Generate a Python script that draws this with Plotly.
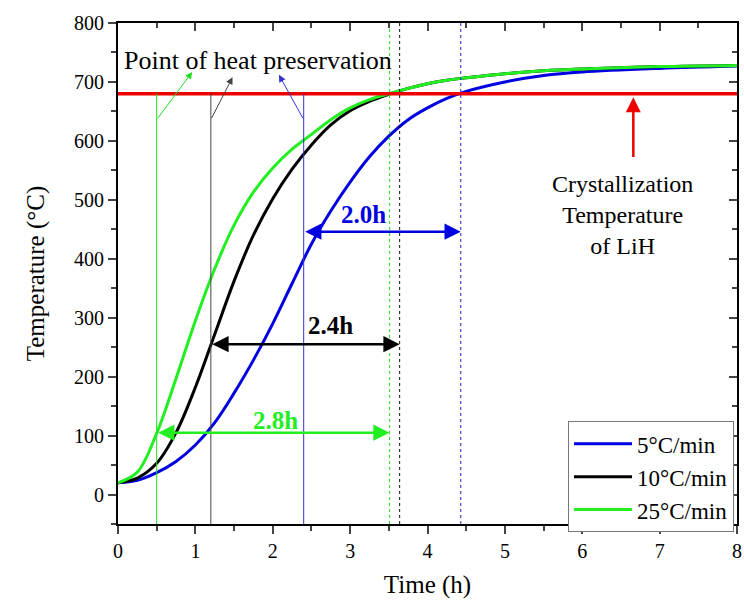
import plotly.graph_objects as go

# ---- data ----
time_h = [0, 0.25, 0.5, 0.75, 1.0, 1.25, 1.5, 1.75, 2.0, 2.25, 2.5, 2.75,
          3.0, 3.25, 3.5, 3.75, 4.0, 4.25, 4.5, 5.0, 5.5, 6.0, 7.0, 8.0]
temp_5 = [20, 24, 37, 56, 84, 122, 172, 228, 290, 358, 425, 481,
          530, 573, 608, 636, 656, 672, 684, 700, 711, 717, 723, 727]
temp_10 = [20, 28, 53, 105, 182, 272, 362, 440, 502, 552, 593, 627,
           651, 667, 679, 689, 697, 703, 707, 714, 719, 722, 726, 728]
temp_25 = [20, 38, 104, 197, 295, 383, 457, 513, 554, 586, 611, 636,
           656, 670, 680, 689, 697, 703, 707, 714, 719, 722, 726, 728]
series_names = ["5°C/min", "10°C/min", "25°C/min"]
series_colors = ["#0000e0", "#000000", "#22ee22"]

cryst_temp = 680
start_times = [2.4, 1.2, 0.5]      # heat preservation start (5, 10, 25)
end_times = [4.43, 3.64, 3.51]     # crossing of crystallization temperature
arrow_levels = [446, 255, 105]
interval_labels = ["2.0h", "2.4h", "2.8h"]
label_pos = [(3.17, 475), (2.75, 287), (2.04, 126)]
pointer_tips = [(2.08, 712), (1.48, 708), (0.96, 717)]
pointer_base = 636
x_range = [0, 8]
y_range = [-50, 800]

FONT = "Liberation Serif, Times New Roman, serif"

fig = go.Figure()

for t_vals, name, col in zip([temp_5, temp_10, temp_25], series_names, series_colors):
    fig.add_trace(go.Scatter(x=time_h, y=t_vals, mode="lines", name=name,
                             line=dict(color=col, width=3, shape="spline", smoothing=1.0)))

fig.add_trace(go.Scatter(x=x_range, y=[cryst_temp, cryst_temp], mode="lines",
                         line=dict(color="#ee0000", width=3.5), showlegend=False))

thin_colors = ["#3333cc", "#444444", "#22dd22"]
dash_colors = ["#2222cc", "#111111", "#22dd22"]
for i in range(3):
    fig.add_trace(go.Scatter(x=[start_times[i], start_times[i]], y=[y_range[0], cryst_temp],
                             mode="lines", line=dict(color=thin_colors[i], width=1),
                             showlegend=False))
    fig.add_trace(go.Scatter(x=[end_times[i], end_times[i]], y=y_range,
                             mode="lines", line=dict(color=dash_colors[i], width=1, dash="3px,3px"),
                             showlegend=False))

annotations = []
arrow_cols = ["#0000e0", "#000000", "#22ee22"]
for i in range(3):
    annotations.append(dict(x=end_times[i], y=arrow_levels[i], ax=start_times[i], ay=arrow_levels[i],
                            xref="x", yref="y", axref="x", ayref="y", text="", showarrow=True,
                            arrowhead=2, arrowsize=1.3, arrowwidth=2.5, arrowside="end+start",
                            arrowcolor=arrow_cols[i], standoff=0, startstandoff=0))
    annotations.append(dict(x=label_pos[i][0], y=label_pos[i][1], xref="x", yref="y",
                            text="<b>%s</b>" % interval_labels[i], showarrow=False,
                            font=dict(family=FONT, size=25, color=arrow_cols[i])))
    annotations.append(dict(x=pointer_tips[i][0], y=pointer_tips[i][1],
                            ax=start_times[i], ay=pointer_base,
                            xref="x", yref="y", axref="x", ayref="y", text="", showarrow=True,
                            arrowhead=2, arrowsize=1.4, arrowwidth=1, arrowcolor=thin_colors[i],
                            standoff=0))

annotations.append(dict(x=0.05, y=737, xref="x", yref="y", text="Point of heat preservation",
                        showarrow=False, xanchor="left",
                        font=dict(family=FONT, size=26, color="black")))
annotations.append(dict(x=6.66, y=cryst_temp - 6, ax=6.66, ay=570, xref="x", yref="y",
                        axref="x", ayref="y", text="", showarrow=True, arrowhead=2,
                        arrowsize=1.2, arrowwidth=2.5, arrowcolor="#ee0000", standoff=0))
annotations.append(dict(x=6.52, y=475, xref="x", yref="y",
                        text="Crystallization<br>Temperature<br>of LiH", showarrow=False,
                        align="center", yanchor="middle",
                        font=dict(family=FONT, size=24, color="black")))

fig.update_layout(
    width=744, height=601,
    margin=dict(l=118, r=7, t=23, b=77),
    paper_bgcolor="white", plot_bgcolor="white",
    font=dict(family=FONT, size=20, color="black"),
    annotations=annotations,
    legend=dict(x=0.727, y=0.205, xanchor="left", yanchor="top",
                bgcolor="white", bordercolor="#777777", borderwidth=1,
                font=dict(family=FONT, size=23), tracegroupgap=0, itemwidth=58),
    xaxis=dict(range=x_range, dtick=1, tick0=0, ticks="outside", ticklen=8, tickwidth=2,
               showline=True, linewidth=2, linecolor="black", showgrid=False, zeroline=False,
               minor=dict(dtick=0.5, ticks="outside", ticklen=5, tickwidth=2),
               title=dict(text="Time (h)", font=dict(size=25), standoff=14),
               tickfont=dict(size=20), ticklabeloverflow="allow", automargin=False),
    yaxis=dict(range=y_range, dtick=100, tick0=0, ticks="outside", ticklen=8, tickwidth=2,
               showline=True, linewidth=2, linecolor="black", showgrid=False, zeroline=False,
               minor=dict(dtick=50, tick0=0, ticks="outside", ticklen=5, tickwidth=2),
               title=dict(text="Temperature (°C)", font=dict(size=25), standoff=22),
               tickfont=dict(size=20)),
    xaxis2=dict(range=x_range, overlaying="x", side="top", dtick=1, ticks="inside",
                ticklen=8, tickwidth=2, showticklabels=False, showline=True, linewidth=2,
                linecolor="black", showgrid=False, zeroline=False,
                minor=dict(dtick=0.5, ticks="inside", ticklen=5, tickwidth=2)),
    yaxis2=dict(range=y_range, overlaying="y", side="right", dtick=100, tick0=0, ticks="inside",
                ticklen=8, tickwidth=2, showticklabels=False, showline=True, linewidth=2,
                linecolor="black", showgrid=False, zeroline=False,
                minor=dict(dtick=50, tick0=0, ticks="inside", ticklen=5, tickwidth=2)),
)
fig.add_trace(go.Scatter(x=[x_range[0]], y=[y_range[0]], xaxis="x2", yaxis="y2",
                         mode="markers", marker=dict(opacity=0), showlegend=False,
                         hoverinfo="skip"))

fig.write_html("out.html")
